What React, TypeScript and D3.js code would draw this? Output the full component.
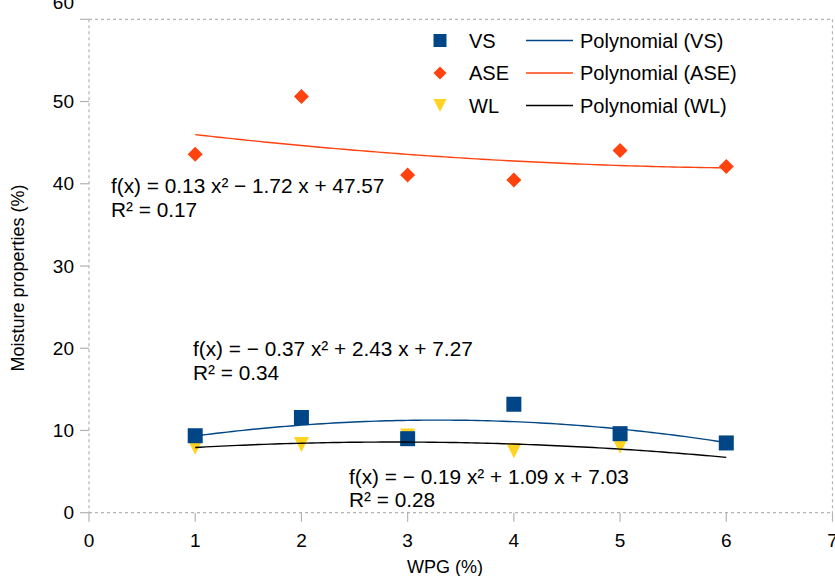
import React from "react";
import * as d3 from "d3";

// WPG loading levels (%)
const wpg = [1, 2, 3, 4, 5, 6];
// Volumetric swelling (%)
const vsValues = [9.36, 11.58, 9.0, 13.2, 9.61, 8.48];
// Anti-swelling efficiency (%)
const aseValues = [43.6, 50.6, 41.06, 40.47, 44.04, 42.1];
// Water leaching (%)
const wlValues = [7.97, 8.3, 9.32, 7.53, 8.09, 8.45];

// Second-order polynomial fits [a, b, c] for a x² + b x + c
const vsFit = [-0.37, 2.43, 7.27];
const aseFit = [0.13, -1.72, 47.57];
const wlFit = [-0.19, 1.09, 7.03];

const vsEq = ["f(x) = − 0.37 x² + 2.43 x + 7.27", "R² = 0.34"];
const aseEq = ["f(x) = 0.13 x² − 1.72 x + 47.57", "R² = 0.17"];
const wlEq = ["f(x) = − 0.19 x² + 1.09 x + 7.03", "R² = 0.28"];

const xTicks = [0, 1, 2, 3, 4, 5, 6, 7];
const yTicks = [0, 10, 20, 30, 40, 50, 60];

const W = 835;
const H = 576;
const FONT = "'Liberation Sans', Arial, sans-serif";

const colVS = "#004586";
const colASE = "#ff420e";
const colWL = "#ffd320";
const gridCol = "#b3b3b3";

const x = d3.scaleLinear().domain([0, 7]).range([89, 832.5]);
const y = d3.scaleLinear().domain([0, 60]).range([512.7, 19.3]);

const poly = (c: number[]) => (v: number) => c[0] * v * v + c[1] * v + c[2];

function trendPath(c: number[]) {
  const f = poly(c);
  const xs = d3.range(1, 6.0001, 0.05);
  const line = d3
    .line<number>()
    .x((d) => x(d))
    .y((d) => y(f(d)))
    .curve(d3.curveLinear);
  return line(xs) || "";
}

const square = (cx: number, cy: number, s: number) =>
  `M${cx - s / 2},${cy - s / 2}h${s}v${s}h${-s}Z`;
const diamond = (cx: number, cy: number, s: number) =>
  `M${cx},${cy - s / 2}L${cx + s / 2},${cy}L${cx},${cy + s / 2}L${cx - s / 2},${cy}Z`;
const triDown = (cx: number, cy: number, s: number) =>
  `M${cx - s / 2},${cy - s / 2}L${cx + s / 2},${cy - s / 2}L${cx},${cy + s / 2}Z`;

const legendRows = [
  { name: "VS", trend: "Polynomial (VS)", color: colVS, line: colVS, shape: square },
  { name: "ASE", trend: "Polynomial (ASE)", color: colASE, line: colASE, shape: diamond },
  { name: "WL", trend: "Polynomial (WL)", color: colWL, line: "#000000", shape: triDown },
];

export default function App() {
  const x0 = x.range()[0];
  const x1 = x.range()[1];
  const y0 = y.range()[0];
  const y1 = y.range()[1];

  return (
    <svg
      width={W}
      height={H}
      style={{ position: "absolute", left: 0, top: 0, background: "#fff" }}
      fontFamily={FONT}
    >
      {/* plot frame */}
      <g stroke={gridCol} strokeWidth={1.2} strokeDasharray="3,3" fill="none">
        <line x1={x0} y1={y1} x2={x1} y2={y1} />
        <line x1={x1} y1={y1} x2={x1} y2={y0} />
        <line x1={x0} y1={y1} x2={x0} y2={y0} />
        <line x1={x0} y1={y0} x2={x1} y2={y0} />
      </g>

      {/* y axis */}
      <g>
        {yTicks.map((t) => (
          <g key={t}>
            <line x1={x0 - 9} x2={x0} y1={y(t)} y2={y(t)} stroke={gridCol} strokeWidth={1.2} />
            <text
              x={74}
              y={t === 60 ? y(t) - 17 : y(t)}
              textAnchor="end"
              dominantBaseline="central"
              fontSize={19}
              fill="#000"
            >
              {t}
            </text>
          </g>
        ))}
      </g>

      {/* x axis */}
      <g>
        {xTicks.map((t) => (
          <g key={t}>
            <line x1={x(t)} x2={x(t)} y1={y0} y2={y0 + 9} stroke={gridCol} strokeWidth={1.2} />
            <text x={x(t)} y={547} textAnchor="middle" fontSize={19} fill="#000">
              {t}
            </text>
          </g>
        ))}
      </g>

      {/* axis titles */}
      <text x={445} y={573} textAnchor="middle" fontSize={18} fill="#000">
        WPG (%)
      </text>
      <text
        transform={`translate(24,278) rotate(-90)`}
        textAnchor="middle"
        fontSize={18}
        fill="#000"
      >
        Moisture properties (%)
      </text>

      {/* data markers */}
      <g fill={colASE}>
        {wpg.map((v, i) => (
          <path key={i} d={diamond(x(v), y(aseValues[i]), 15)} />
        ))}
      </g>
      <g fill={colWL}>
        {wpg.map((v, i) => (
          <path key={i} d={triDown(x(v), y(wlValues[i]), 15)} />
        ))}
      </g>
      <g fill={colVS}>
        {wpg.map((v, i) => (
          <path key={i} d={square(x(v), y(vsValues[i]), 15)} />
        ))}
      </g>

      {/* polynomial trend lines */}
      <path d={trendPath(aseFit)} fill="none" stroke={colASE} strokeWidth={1.4} />
      <path d={trendPath(vsFit)} fill="none" stroke={colVS} strokeWidth={1.4} />
      <path d={trendPath(wlFit)} fill="none" stroke="#000" strokeWidth={1.4} />

      {/* trend equations */}
      <g fontSize={20.8} fill="#000">
        <text x={111} y={193}>{aseEq[0]}</text>
        <text x={111} y={217}>{aseEq[1]}</text>
        <text x={193} y={356}>{vsEq[0]}</text>
        <text x={193} y={380}>{vsEq[1]}</text>
        <text x={349} y={484}>{wlEq[0]}</text>
        <text x={349} y={507}>{wlEq[1]}</text>
      </g>

      {/* legend */}
      <g>
        {legendRows.map((r, i) => {
          const cy = 40.5 + i * 32.5;
          return (
            <g key={r.name}>
              <path d={r.shape(440, cy, 13)} fill={r.color} />
              <text x={469} y={cy} dominantBaseline="central" fontSize={20} fill="#000">
                {r.name}
              </text>
              <line x1={526} x2={573} y1={cy} y2={cy} stroke={r.line} strokeWidth={1.4} />
              <text x={580} y={cy} dominantBaseline="central" fontSize={20} fill="#000">
                {r.trend}
              </text>
            </g>
          );
        })}
      </g>
    </svg>
  );
}
